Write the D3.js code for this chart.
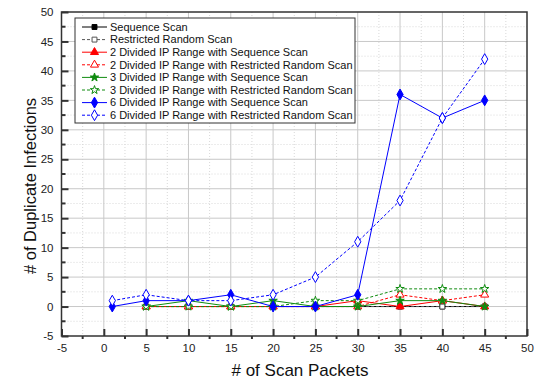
<!DOCTYPE html>
<html>
<head>
<meta charset="utf-8">
<script src="https://cdn.jsdelivr.net/npm/d3@7"></script>
<style>
  html, body { margin: 0; padding: 0; background: #fff; }
  svg { display: block; font-family: "Liberation Sans", Arial, sans-serif; }
</style>
</head>
<body>
<svg id="chart" width="540" height="382"></svg>
<script>
// Scan packet counts sampled for each strategy
const packetsShort = [5, 10, 15, 20, 25, 30, 35, 40, 45];
const packetsLong = [1, 5, 10, 15, 20, 25, 30, 35, 40, 45];

// Duplicate infection counts per strategy
const seqScan = [0, 0, 0, 0, 0, 0, 0, 0, 0];
const restrictedRandom = [0, 0, 0, 0, 0, 0, 0, 0, 0];
const div2Seq = [0, 0, 0, 0, 0, 1, 0, 1, 0];
const div2Restricted = [0, 0, 0, 0, 0, 0, 2, 1, 2];
const div3Seq = [0, 1, 0, 1, 0, 0, 1, 1, 0];
const div3Restricted = [0, 0, 0, 0, 1, 1, 3, 3, 3];
const div6Seq = [0, 1, 1, 2, 0, 0, 2, 36, 32, 35];
const div6Restricted = [1, 2, 1, 1, 2, 5, 11, 18, 32, 42];

const seriesNames = [
  "Sequence Scan",
  "Restricted Random Scan",
  "2 Divided IP Range with Sequence Scan",
  "2 Divided IP Range with Restricted Random Scan",
  "3 Divided IP Range with Sequence Scan",
  "3 Divided IP Range with Restricted Random Scan",
  "6 Divided IP Range with Sequence Scan",
  "6 Divided IP Range with Restricted Random Scan"
];

const xTicks = [-5, 0, 5, 10, 15, 20, 25, 30, 35, 40, 45, 50];
const yTicks = [-5, 0, 5, 10, 15, 20, 25, 30, 35, 40, 45, 50];

const series = [
  { name: seriesNames[0], xs: packetsShort, ys: seqScan, color: "#000000", dash: null, symbol: d3.symbolSquare, size: 24, open: false },
  { name: seriesNames[1], xs: packetsShort, ys: restrictedRandom, color: "#555555", dash: "3,2", symbol: d3.symbolSquare, size: 24, open: true },
  { name: seriesNames[2], xs: packetsShort, ys: div2Seq, color: "#ff0000", dash: null, symbol: d3.symbolTriangle, size: 28, open: false },
  { name: seriesNames[3], xs: packetsShort, ys: div2Restricted, color: "#ff0000", dash: "3,2", symbol: d3.symbolTriangle, size: 28, open: true },
  { name: seriesNames[4], xs: packetsShort, ys: div3Seq, color: "#108c10", dash: null, symbol: d3.symbolStar, size: 22, open: false },
  { name: seriesNames[5], xs: packetsShort, ys: div3Restricted, color: "#108c10", dash: "3,2", symbol: d3.symbolStar, size: 22, open: true },
  { name: seriesNames[6], xs: packetsLong, ys: div6Seq, color: "#0000ff", dash: null, symbol: d3.symbolDiamond, size: 34, open: false },
  { name: seriesNames[7], xs: packetsLong, ys: div6Restricted, color: "#0000ff", dash: "3,2", symbol: d3.symbolDiamond, size: 34, open: true }
];

const svg = d3.select("#chart");
const plotLeft = 61.5, plotRight = 527, plotTop = 12, plotBottom = 336;

const x = d3.scaleLinear().domain([-5, 50]).range([plotLeft, plotRight]);
const y = d3.scaleLinear().domain([-5, 50]).range([plotBottom, plotTop]);

// Integer labels with a plain hyphen for negatives
const fmt = d => String(d);

// Minor gridlines (dotted) at half steps
const minor = d3.range(-2.5, 50, 5);
const grid = svg.append("g");
grid.selectAll(".vmin").data(minor).join("line")
  .attr("x1", d => x(d)).attr("x2", d => x(d))
  .attr("y1", plotTop).attr("y2", plotBottom)
  .attr("stroke", "#d8d8d8").attr("stroke-dasharray", "1,2");
grid.selectAll(".hmin").data(minor).join("line")
  .attr("x1", plotLeft).attr("x2", plotRight)
  .attr("y1", d => y(d)).attr("y2", d => y(d))
  .attr("stroke", "#d8d8d8").attr("stroke-dasharray", "1,2");
// Major gridlines
grid.selectAll(".vmaj").data(xTicks.slice(1, -1)).join("line")
  .attr("x1", d => x(d)).attr("x2", d => x(d))
  .attr("y1", plotTop).attr("y2", plotBottom)
  .attr("stroke", "#c8c8c8").attr("stroke-width", 1);
grid.selectAll(".hmaj").data(yTicks.slice(1, -1)).join("line")
  .attr("x1", plotLeft).attr("x2", plotRight)
  .attr("y1", d => y(d)).attr("y2", d => y(d))
  .attr("stroke", "#c8c8c8").attr("stroke-width", 1);

// Axes with inward major ticks
const xAxis = d3.axisBottom(x).tickValues(xTicks).tickSize(-7).tickPadding(8).tickFormat(fmt);
const yAxis = d3.axisLeft(y).tickValues(yTicks).tickSize(-7).tickPadding(8).tickFormat(fmt);

const gx = svg.append("g").attr("transform", `translate(0,${plotBottom})`).call(xAxis);
const gy = svg.append("g").attr("transform", `translate(${plotLeft},0)`).call(yAxis);
[gx, gy].forEach(g => {
  g.select(".domain").remove();
  g.selectAll(".tick line").attr("stroke", "#333").attr("stroke-width", 2);
  g.selectAll(".tick text").attr("font-size", 11.5).attr("fill", "#222")
    .attr("font-family", "'Liberation Sans', Arial, sans-serif");
});

// Minor ticks
svg.append("g").selectAll("line").data(minor).join("line")
  .attr("x1", d => x(d)).attr("x2", d => x(d))
  .attr("y1", plotBottom).attr("y2", plotBottom + 3)
  .attr("stroke", "#333").attr("stroke-width", 2);
svg.append("g").selectAll("line").data(minor).join("line")
  .attr("x1", plotLeft).attr("x2", plotLeft + 4)
  .attr("y1", d => y(d)).attr("y2", d => y(d))
  .attr("stroke", "#333").attr("stroke-width", 2);

// Plot frame
svg.append("rect")
  .attr("x", plotLeft).attr("y", plotTop)
  .attr("width", plotRight - plotLeft).attr("height", plotBottom - plotTop)
  .attr("fill", "none").attr("stroke", "#333").attr("stroke-width", 1.5);

// Series lines and markers
const line = d3.line().x(d => x(d[0])).y(d => y(d[1]));
const plot = svg.append("g");
series.forEach(s => {
  const pts = s.xs.map((v, i) => [v, s.ys[i]]);
  plot.append("path").datum(pts)
    .attr("d", line)
    .attr("fill", "none")
    .attr("stroke", s.color)
    .attr("stroke-width", 1)
    .attr("stroke-dasharray", s.dash);
  plot.append("g").selectAll("path").data(pts).join("path")
    .attr("transform", d => `translate(${x(d[0])},${y(d[1])})`)
    .attr("d", d3.symbol().type(s.symbol).size(s.size))
    .attr("fill", s.open ? "#fff" : s.color)
    .attr("stroke", s.color)
    .attr("stroke-width", 1);
});

// Legend
const legend = svg.append("g");
legend.append("rect")
  .attr("x", 75).attr("y", 18).attr("width", 280).attr("height", 105)
  .attr("fill", "#fff").attr("stroke", "#333").attr("stroke-width", 1);
series.forEach((s, i) => {
  const cy = 27 + i * 12.6;
  const row = legend.append("g");
  row.append("line")
    .attr("x1", 82).attr("x2", 107).attr("y1", cy).attr("y2", cy)
    .attr("stroke", s.color).attr("stroke-width", 1)
    .attr("stroke-dasharray", s.dash);
  row.append("path")
    .attr("transform", `translate(94.5,${cy})`)
    .attr("d", d3.symbol().type(s.symbol).size(s.size))
    .attr("fill", s.open ? "#fff" : s.color)
    .attr("stroke", s.color).attr("stroke-width", 1);
  row.append("text")
    .attr("x", 110).attr("y", cy).attr("dy", "0.35em")
    .attr("font-size", 11).attr("fill", "#111")
    .text(s.name);
});

// Axis titles
svg.append("text")
  .attr("x", 300).attr("y", 376)
  .attr("text-anchor", "middle").attr("font-size", 17).attr("fill", "#111")
  .text("# of Scan Packets");
svg.append("text")
  .attr("transform", "translate(36,186) rotate(-90)")
  .attr("text-anchor", "middle").attr("font-size", 16.5).attr("fill", "#111")
  .text("# of Duplicate Infections");
</script>
</body>
</html>
